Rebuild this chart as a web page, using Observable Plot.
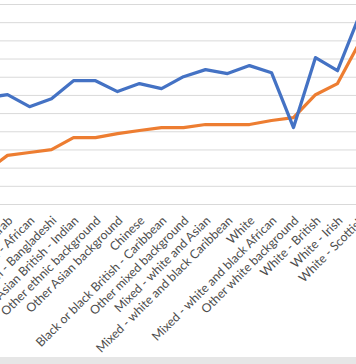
<!DOCTYPE html>
<html>
<head>
<meta charset="utf-8">
<script src="https://cdn.jsdelivr.net/npm/d3@7"></script>
<script src="https://cdn.jsdelivr.net/npm/@observablehq/plot@0.6"></script>
<style>
  html, body { margin: 0; padding: 0; background: #fff; }
  #wrap { position: relative; width: 356px; height: 364px; overflow: hidden; background: #fff; }
  #chart { position: absolute; left: -60px; top: 0; width: 430px; height: 364px; }
  #chart svg { max-width: none !important; }
  #band { position: absolute; left: 0; top: 357px; width: 356px; height: 7px; background: #e6e6e6; }
</style>
</head>
<body>
<div id="wrap"><div id="chart"></div><div id="band"></div></div>
<script>
const categories = [
  "Asian or Asian British - Pakistani",
  "Other ethnic group - Arab",
  "Black or black British - African",
  "Asian or Asian British - Bangladeshi",
  "Asian or Asian British - Indian",
  "Other ethnic background",
  "Other Asian background",
  "Chinese",
  "Black or black British - Caribbean",
  "Other mixed background",
  "Mixed - white and Asian",
  "Mixed - white and black Caribbean",
  "White",
  "Mixed - white and black African",
  "Other white background",
  "White - British",
  "White - Irish",
  "White - Scottish"
];
const blueValues = [5.87, 6.04, 5.38, 5.82, 6.81, 6.81, 6.21, 6.65, 6.37, 7.03, 7.42, 7.2, 7.64, 7.25, 4.23, 8.08, 7.36, 10.4];
const orangeValues = [1.8, 2.7, 2.86, 3.02, 3.68, 3.68, 3.9, 4.07, 4.23, 4.23, 4.4, 4.4, 4.4, 4.62, 4.78, 6.04, 6.65, 8.9];
const gridTicks = [0, 1, 2, 3, 4, 5, 6, 7, 8, 9, 10, 11];

const blueData = categories.map((c, i) => ({cat: c, value: blueValues[i]}));
const orangeData = categories.map((c, i) => ({cat: c, value: orangeValues[i]}));

const chart = Plot.plot({
  width: 430,
  height: 364,
  marginLeft: 34,
  marginRight: 0,
  marginTop: 4,
  marginBottom: 160,
  style: {fontFamily: "Lato", background: "transparent", maxWidth: "none"},
  x: {type: "point", domain: categories, padding: 0.5, axis: null},
  y: {domain: [0, 11], axis: null},
  marks: [
    Plot.ruleY(gridTicks, {stroke: "#d9d9d9", strokeWidth: 1}),
    Plot.line(orangeData, {x: "cat", y: "value", stroke: "#ED7D31", strokeWidth: 3.25, strokeLinejoin: "round", strokeLinecap: "round"}),
    Plot.line(blueData, {x: "cat", y: "value", stroke: "#4472C4", strokeWidth: 3.25, strokeLinejoin: "round", strokeLinecap: "round"}),
    Plot.text(categories, {x: d => d, frameAnchor: "bottom", rotate: -45, textAnchor: "end", lineAnchor: "middle", dx: 3, dy: 14, fill: "#4d4d4d", fontSize: 12.3})
  ]
});
document.getElementById("chart").appendChild(chart);
</script>
</body>
</html>
